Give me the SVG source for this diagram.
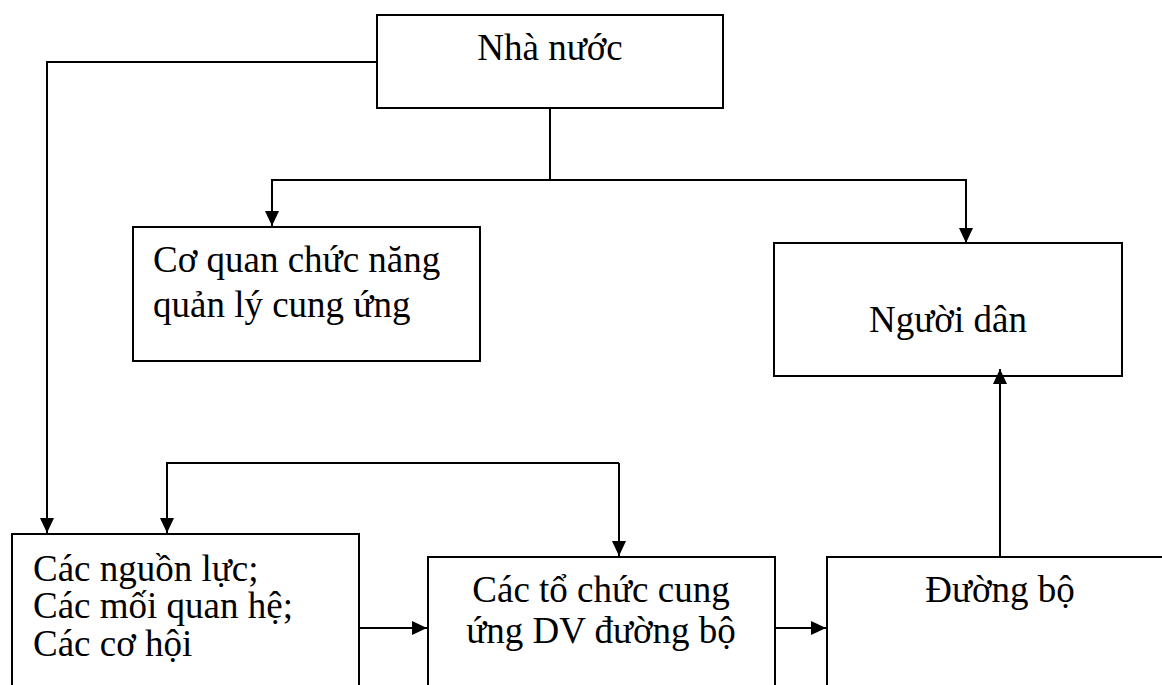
<svg xmlns="http://www.w3.org/2000/svg" width="1162" height="685" viewBox="0 0 1162 685">
  <style>
    .box { fill: #ffffff; stroke: #000000; stroke-width: 2; }
    .lbl { font-family: "Liberation Serif", "Times New Roman", serif; font-size: 37px; fill: #000000; }
    .mid { text-anchor: middle; }
    .wire { fill: none; stroke: #000000; stroke-width: 2; }
  </style>
  <defs>
    <marker id="arrow" markerUnits="userSpaceOnUse" markerWidth="16" markerHeight="16" viewBox="0 0 16 14" refX="15" refY="7" orient="auto">
      <path d="M0,0 L15,7 L0,14 Z" fill="#000000"/>
    </marker>
  </defs>

  <rect width="1162" height="685" fill="#ffffff"/>

  <g id="nha-nuoc">
    <rect class="box" x="377" y="15" width="346" height="93"/>
    <text class="lbl mid" x="550" y="60">Nhà nước</text>
  </g>

  <g id="co-quan">
    <rect class="box" x="133" y="227" width="347" height="134"/>
    <text class="lbl" x="153" y="272">Cơ quan chức năng</text>
    <text class="lbl" x="153" y="317">quản lý cung ứng</text>
  </g>

  <g id="nguoi-dan">
    <rect class="box" x="774" y="243" width="348" height="133"/>
    <text class="lbl mid" x="948" y="332">Người dân</text>
  </g>

  <g id="nguon-luc">
    <rect class="box" x="12" y="534" width="347" height="200"/>
    <text class="lbl" x="33" y="581">Các nguồn lực;</text>
    <text class="lbl" x="33" y="618">Các mối quan hệ;</text>
    <text class="lbl" x="33" y="656">Các cơ hội</text>
  </g>

  <g id="to-chuc">
    <rect class="box" x="428" y="557" width="347" height="200"/>
    <text class="lbl mid" x="601" y="602">Các tổ chức cung</text>
    <text class="lbl mid" x="601" y="643">ứng DV đường bộ</text>
  </g>

  <g id="duong-bo">
    <rect class="box" x="827" y="557" width="400" height="200"/>
    <text class="lbl mid" x="1000" y="602">Đường bộ</text>
  </g>

  <g id="connectors">
    <path class="wire" d="M376,62 H47 V533" marker-end="url(#arrow)"/>
    <path class="wire" d="M550,109 V180"/>
    <path class="wire" d="M550,180 H272 V226" marker-end="url(#arrow)"/>
    <path class="wire" d="M550,180 H966 V243" marker-end="url(#arrow)"/>
    <path class="wire" d="M619,463 H167 V533" marker-end="url(#arrow)"/>
    <path class="wire" d="M619,463 V556" marker-end="url(#arrow)"/>
    <path class="wire" d="M359,628 H427" marker-end="url(#arrow)"/>
    <path class="wire" d="M775,628 H826" marker-end="url(#arrow)"/>
    <path class="wire" d="M1000,556 V369" marker-end="url(#arrow)"/>
  </g>
</svg>
